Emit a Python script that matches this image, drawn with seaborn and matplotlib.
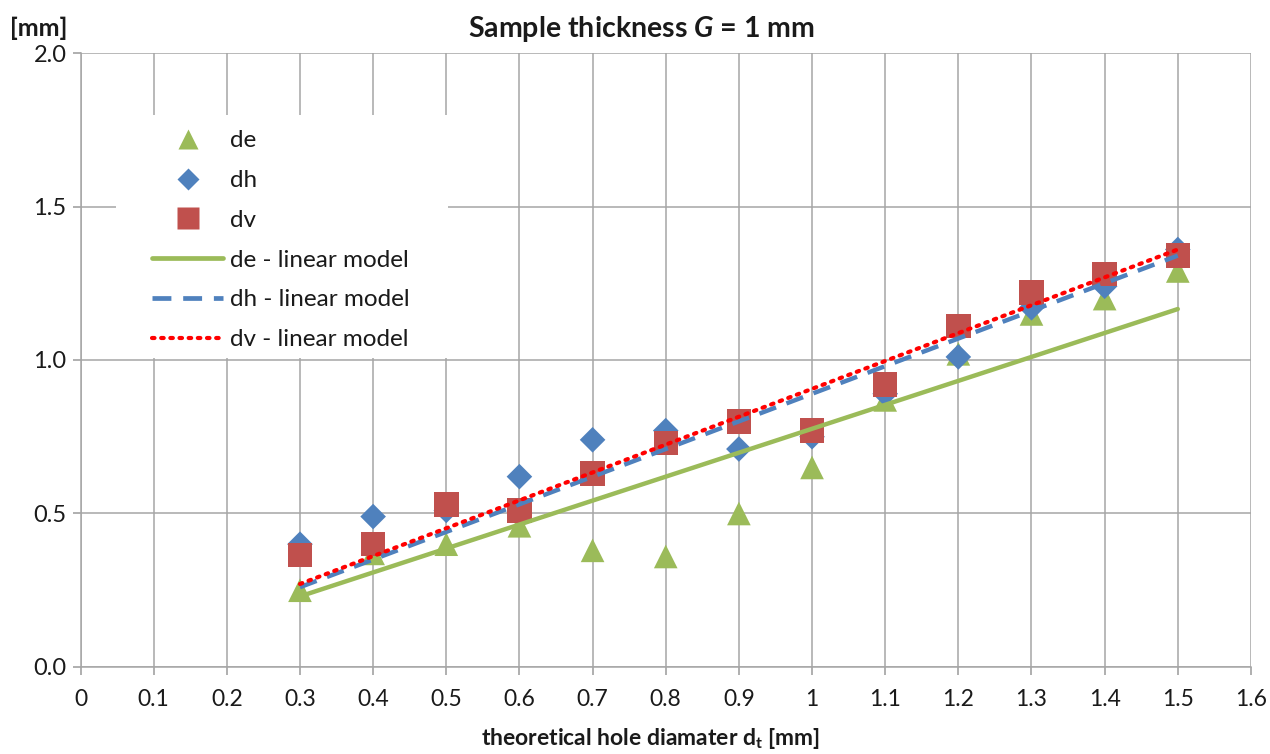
import numpy as np
import pandas as pd
import matplotlib
matplotlib.use("Agg")
import matplotlib.pyplot as plt
import seaborn as sns
from matplotlib.lines import Line2D
from matplotlib.patches import Rectangle

# ---- data ----
dt = [0.3, 0.4, 0.5, 0.6, 0.7, 0.8, 0.9, 1.0, 1.1, 1.2, 1.3, 1.4, 1.5]
de = [0.25, 0.37, 0.40, 0.46, 0.38, 0.36, 0.50, 0.65, 0.87, 1.02, 1.15, 1.20, 1.29]
dh = [0.40, 0.49, 0.51, 0.62, 0.74, 0.77, 0.71, 0.75, 0.89, 1.01, 1.17, 1.24, 1.36]
dv = [0.365, 0.40, 0.53, 0.51, 0.63, 0.73, 0.80, 0.77, 0.92, 1.11, 1.22, 1.28, 1.34]
# linear models: slope, intercept
de_model = [0.780, -0.004]
dh_model = [0.900, -0.010]
dv_model = [0.908, -0.002]
x_ticks = [0, 0.1, 0.2, 0.3, 0.4, 0.5, 0.6, 0.7, 0.8, 0.9, 1, 1.1, 1.2, 1.3, 1.4, 1.5, 1.6]
x_tick_labels = ["0", "0.1", "0.2", "0.3", "0.4", "0.5", "0.6", "0.7", "0.8", "0.9", "1",
                 "1.1", "1.2", "1.3", "1.4", "1.5", "1.6"]
y_ticks = [0.0, 0.5, 1.0, 1.5, 2.0]

sns.set_theme(style="white")
plt.rcParams['font.family'] = ['Lato', 'DejaVu Sans']
plt.rcParams['mathtext.fontset'] = 'custom'
plt.rcParams['mathtext.rm'] = 'Lato'
plt.rcParams['mathtext.bf'] = 'Lato:bold'
plt.rcParams['mathtext.it'] = 'Lato:italic'
plt.rcParams['mathtext.bfit'] = 'Lato:italic:bold'

GREEN = "#9BBB59"
BLUE = "#4F81BD"
RED = "#C0504D"
DOTRED = "#FF0000"
TXT = "#1A1A1A"

fig = plt.figure(figsize=(12.7, 7.54), dpi=100)
ax = fig.add_axes([0.0634, 0.1154, 0.9216, 0.8143])

pts = pd.DataFrame({"dt": dt * 3, "value": de + dh + dv,
                    "series": ["de"] * len(dt) + ["dh"] * len(dt) + ["dv"] * len(dt)})
xs = np.array(dt)
lines = pd.DataFrame({
    "dt": list(xs) * 3,
    "value": list(de_model[0] * xs + de_model[1]) + list(dh_model[0] * xs + dh_model[1])
             + list(dv_model[0] * xs + dv_model[1]),
    "series": ["de - linear model"] * len(xs) + ["dh - linear model"] * len(xs)
              + ["dv - linear model"] * len(xs)})

# markers
sns.scatterplot(data=pts[pts.series == "de"], x="dt", y="value", marker="^", s=290,
                color=GREEN, edgecolor="none", ax=ax, zorder=3, legend=False)
sns.scatterplot(data=pts[pts.series == "dh"], x="dt", y="value", marker="D", s=170,
                color=BLUE, edgecolor="none", ax=ax, zorder=3, legend=False)
sns.scatterplot(data=pts[pts.series == "dv"], x="dt", y="value", marker="s", s=310,
                color=RED, edgecolor="none", ax=ax, zorder=4, legend=False)
# models
sns.lineplot(data=lines[lines.series == "de - linear model"], x="dt", y="value",
             color=GREEN, lw=3.2, ax=ax, zorder=5, legend=False)
sns.lineplot(data=lines[lines.series == "dh - linear model"], x="dt", y="value",
             color=BLUE, lw=3.2, ax=ax, zorder=5, legend=False)
ax.lines[-1].set_linestyle((0, (4, 2.5)))
sns.lineplot(data=lines[lines.series == "dv - linear model"], x="dt", y="value",
             color=DOTRED, lw=3, ax=ax, zorder=6, legend=False)
ax.lines[-1].set_linestyle((0, (0.6, 1.6)))
ax.lines[-1].set_dash_capstyle("round")

ax.set_xlim(0, 1.6)
ax.set_ylim(0, 2.0)
ax.set_xticks(x_ticks)
ax.set_xticklabels(x_tick_labels)
ax.set_yticks(y_ticks)
ax.set_yticklabels([f"{v:.1f}" for v in y_ticks])
ax.grid(True, color="#A6A6A6", lw=1.1, zorder=0)
ax.set_axisbelow(True)
for side in ["top", "right"]:
    ax.spines[side].set_visible(False)
for side in ["left", "bottom"]:
    ax.spines[side].set_color("#A6A6A6")
    ax.spines[side].set_linewidth(1.1)
ax.tick_params(axis="x", which="both", bottom=True, length=6, color="#A6A6A6",
               labelsize=16.5, pad=10, labelcolor=TXT)
ax.tick_params(axis="y", which="both", left=True, length=6, color="#A6A6A6",
               labelsize=17, pad=4, labelcolor=TXT)

ax.set_xlabel(r"theoretical hole diamater d$_{\mathbf{t}}$ [mm]", fontsize=16.5,
              fontweight="bold", color=TXT)
ax.xaxis.set_label_coords(0.487, -0.096)
ax.set_ylabel("")
fig.text(0.008, 0.963, "[mm]", fontsize=18, fontweight="bold", ha="left", va="center",
         color=TXT)
fig.text(0.505, 0.962, r"Sample thickness $\mathbfit{G}$ = 1 mm", fontsize=20.5,
         fontweight="bold", ha="center", va="center", color=TXT)

# white legend background
ax.add_patch(Rectangle((0.0303, 0.503), 0.284, 0.396, transform=ax.transAxes,
                       facecolor="white", edgecolor="none", zorder=1))

handles = [
    Line2D([], [], ls="none", marker="^", ms=15, color=GREEN, mec="none"),
    Line2D([], [], ls="none", marker="D", ms=11, color=BLUE, mec="none"),
    Line2D([], [], ls="none", marker="s", ms=16, color=RED, mec="none"),
    Line2D([], [], color=GREEN, lw=3.4),
    Line2D([], [], color=BLUE, lw=3.4, ls=(0, (4, 2.5))),
    Line2D([], [], color=DOTRED, lw=3, ls=(0, (0.6, 1.6)), dash_capstyle="round"),
]
labels = ["de", "dh", "dv", "de - linear model", "dh - linear model", "dv - linear model"]
leg = ax.legend(handles, labels, loc="upper left", bbox_to_anchor=(0.0611, 0.874),
                fontsize=17.5, frameon=False, handlelength=2.92, handletextpad=0.29,
                labelspacing=0.77, borderpad=0, borderaxespad=0)
for t in leg.get_texts():
    t.set_color(TXT)

fig.savefig("out.png", dpi=100)
